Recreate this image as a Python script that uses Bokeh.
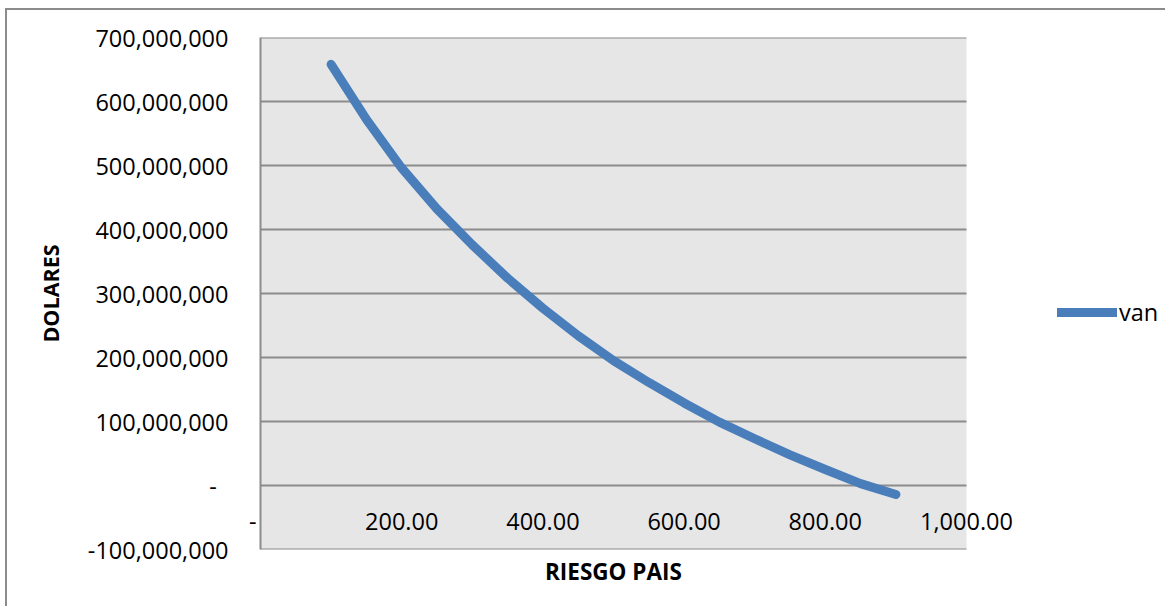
from bokeh.plotting import figure
from bokeh.models import Range1d, FixedTicker, Legend, LegendItem, BoxAnnotation, Title
from bokeh.embed import file_html
from bokeh.resources import INLINE

# ---- data ----
riesgo_pais = [100, 150, 200, 250, 300, 350, 400, 450, 500, 550, 600, 650, 700, 750, 800, 850, 900]
van = [658e6, 572e6, 496e6, 432e6, 376e6, 324e6, 277e6, 234e6, 195e6, 161e6, 129e6,
       99e6, 73e6, 48e6, 25e6, 3e6, -14e6]

x_tick_values = [0, 200, 400, 600, 800, 1000]
x_tick_labels = ["-\u2002\u2009", "200.00", "400.00", "600.00", "800.00", "1,000.00"]

y_tick_values = [-100e6, 0, 100e6, 200e6, 300e6, 400e6, 500e6, 600e6, 700e6]
y_tick_labels = ["-100,000,000", "-\u2002", "100,000,000", "200,000,000", "300,000,000",
                 "400,000,000", "500,000,000", "600,000,000", "700,000,000"]

series_name = "van"
x_title = "RIESGO PAIS"
y_title = "DOLARES"

FONT = "Open Sans"
GRID = "#8c8c8c"
BLUE = "#4A7EBB"
PLOT_BG = "#E6E6E6"

# layout (pixels)
FIG_W, FIG_H = 1160, 598
LEFT, TOP, BOTTOM = 253, 27, 59
AREA_W = 706                      # width of the grey plot area (x 0..1000)
X_TITLE_W = 137                   # approximate rendered width of the x title
frame_w = FIG_W - LEFT
x_min, x_max = x_tick_values[0], x_tick_values[-1]
y_min, y_max = y_tick_values[0], y_tick_values[-1]
x_end = x_min + (x_max - x_min) * frame_w / AREA_W   # room on the right for the legend

p = figure(width=FIG_W, height=FIG_H, output_backend="svg", toolbar_location=None,
           x_range=Range1d(x_min, x_end), y_range=Range1d(y_min, y_max),
           min_border_left=LEFT, min_border_right=0, min_border_top=TOP,
           min_border_bottom=BOTTOM)
p.styles = {"border-left": "2px solid #8c8c8c", "border-top": "2px solid #8c8c8c",
            "margin-left": "5px", "margin-top": "8px"}

p.background_fill_color = "white"
p.border_fill_color = "white"
p.outline_line_color = None

# grey plot area
p.add_layout(BoxAnnotation(left=x_min, right=x_max, bottom=y_min, top=y_max,
                           fill_color=PLOT_BG, fill_alpha=1, line_color=None,
                           level="underlay"))

# horizontal gridlines limited to the plot area
p.xgrid.visible = False
p.ygrid.visible = False
p.segment(x0=[x_min] * len(y_tick_values), x1=[x_max] * len(y_tick_values),
          y0=y_tick_values, y1=y_tick_values, line_color=GRID, line_width=2)

# y axis
ya = p.yaxis[0]
ya.ticker = FixedTicker(ticks=y_tick_values)
ya.major_label_overrides = {v: s for v, s in zip(y_tick_values, y_tick_labels)}
ya.axis_line_color = GRID
ya.axis_line_width = 2
ya.major_tick_line_color = None
ya.minor_tick_line_color = None
ya.major_tick_out = 0
ya.major_label_standoff = 32
ya.major_label_text_font = FONT
ya.major_label_text_font_size = "23.5px"
ya.major_label_text_color = "black"
ya.axis_label = y_title
ya.axis_label_text_font = FONT
ya.axis_label_text_font_style = "bold"
ya.axis_label_text_font_size = "21.5px"
ya.axis_label_text_color = "black"
ya.axis_label_standoff = 20

# x axis: tick labels lifted next to the zero line (Excel style)
xa = p.xaxis[0]
xa.ticker = FixedTicker(ticks=x_tick_values)
xa.major_label_overrides = {v: s for v, s in zip(x_tick_values, x_tick_labels)}
xa.axis_line_color = None
xa.major_tick_line_color = None
xa.minor_tick_line_color = None
xa.major_tick_out = 0
xa.major_label_standoff = -45
xa.major_label_text_font = FONT
xa.major_label_text_font_size = "23.5px"
xa.major_label_text_color = "black"

# x axis title, centred under the grey plot area
p.add_layout(Title(text=x_title, align="left", offset=(AREA_W - X_TITLE_W) / 2,
                   text_font=FONT, text_font_style="bold", text_font_size="22.5px",
                   text_color="black", standoff=8), "below")

r = p.line(riesgo_pais, van, line_color=BLUE, line_width=9, line_cap="round",
           line_join="round")

legend = Legend(items=[LegendItem(label=series_name, renderers=[r])],
                location=(797, 221), orientation="vertical")
legend.glyph_width = 60
legend.glyph_height = 20
legend.label_standoff = 2
legend.padding = 0
legend.margin = 0
legend.spacing = 0
legend.border_line_color = None
legend.background_fill_alpha = 0
legend.label_text_font = FONT
legend.label_text_font_size = "23.5px"
legend.label_text_color = "black"
p.add_layout(legend, "center")

open("out.html", "w").write(file_html(p, INLINE))
